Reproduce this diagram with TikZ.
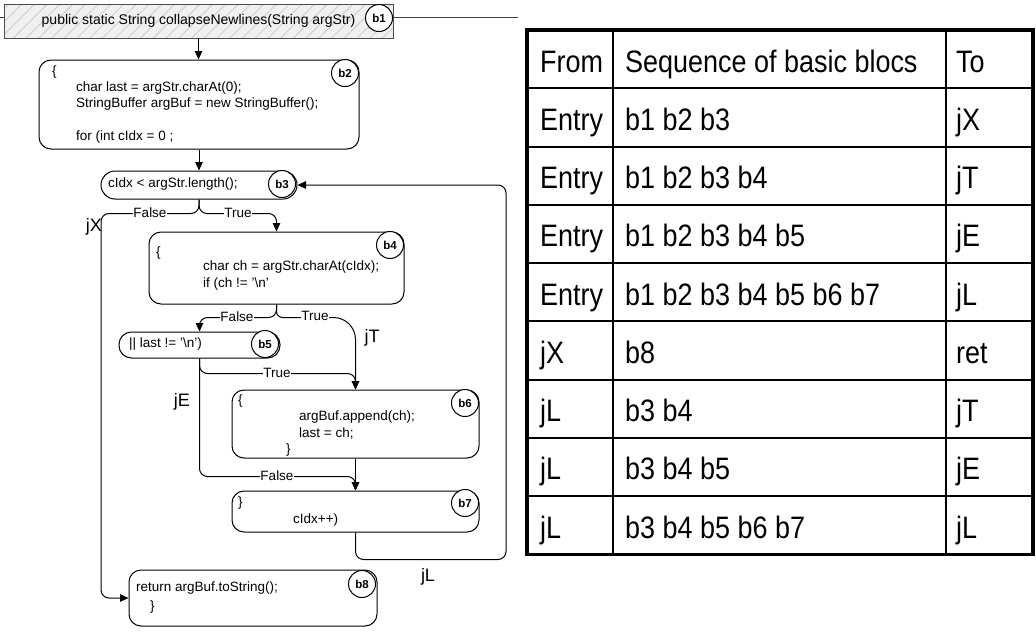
\documentclass[tikz,border=0pt]{standalone}
\usepackage{fontspec}
\setmainfont{Liberation Sans}
\usetikzlibrary{arrows.meta,patterns.meta,calc}
\tikzset{
 blk/.style={draw,line width=1pt,rounded corners=12pt,inner sep=0pt},
 pill/.style={draw,line width=1pt,rounded corners=12.5pt,inner sep=0pt},
 tag/.style={circle,draw,line width=1pt,fill=white,minimum size=27pt,inner sep=0pt,font=\fontsize{11.5}{12}\selectfont\bfseries},
 code/.style={anchor=west,inner sep=0pt,font=\fontsize{13.5}{15}\selectfont},
 lab/.style={fill=white,inner sep=0.6pt,font=\fontsize{13.5}{15}\selectfont},
 jlab/.style={inner sep=0pt,font=\fontsize{18}{20}\selectfont},
 conn/.style={line width=1pt,rounded corners=8pt},
 arr/.style={conn,-{Triangle[length=8.5pt,width=7.5pt]}},
 tabtext/.style={anchor=base west,inner sep=0pt,xscale=0.87,font=\fontsize{31}{34}\selectfont},
}
\begin{document}
\begin{tikzpicture}[x=1pt,y=-1pt]
\useasboundingbox (0,0) rectangle (1036,637);

% top line
\coordinate (topL) at (0,17);
\coordinate (topR) at (518,17);
\draw[line width=1pt,gray!50!black] (topL) -- (topR);

% b1
\node[draw=gray!60!black,line width=1pt,minimum width=389pt,minimum height=34pt,
      preaction={fill=gray!12},pattern={Lines[angle=45,distance=9pt,line width=0.8pt]},pattern color=gray!40,
      font=\fontsize{14}{16}\selectfont] (b1) at (198.5,21) {public static String collapseNewlines(String argStr)};
\node[tag] (t1) at (379,18) {b1};

% b2
\node[blk,minimum width=320pt,minimum height=89pt] (b2) at (199,104.5) {};
\node[code] (c2a) at (52,72) {\{};
\node[code] (c2b) at (76,88) {char last = argStr.charAt(0);};
\node[code] (c2c) at (76,104) {StringBuffer argBuf = new StringBuffer();};
\node[code] (c2d) at (76,137) {for (int cIdx = 0 ;};
\node[tag] (t2) at (345,73) {b2};

% b3
\node[pill,rounded corners=14pt,minimum width=196pt,minimum height=28pt] (b3) at (199,185) {};
\node[code] (c3) at (108,184) {cIdx < argStr.length();};
\node[tag] (t3) at (282,184) {b3};

% b4
\node[blk,minimum width=255pt,minimum height=72pt] (b4) at (276.5,268) {};
\node[code] (c4a) at (156,253) {\{};
\node[code] (c4b) at (203,267) {char ch = argStr.charAt(cIdx);};
\node[code] (c4c) at (203,284) {if (ch != '\textbackslash n'};
\node[tag] (t4) at (390,245) {b4};

% b5
\node[pill,minimum width=161pt,minimum height=26pt] (b5) at (199.5,345) {};
\node[code] (c5) at (129,344) {|| last != '\textbackslash n')};
\node[tag] (t5) at (265,344) {b5};

% b6
\node[blk,minimum width=247pt,minimum height=68pt] (b6) at (355.5,424) {};
\node[code] (c6a) at (238,401) {\{};
\node[code] (c6b) at (299,417) {argBuf.append(ch);};
\node[code] (c6c) at (299,433) {last = ch;};
\node[code] (c6d) at (286,450) {\}};
\node[tag] (t6) at (465,403) {b6};

% b7
\node[blk,minimum width=247pt,minimum height=41pt] (b7) at (355.5,511.5) {};
\node[code] (c7a) at (238,503) {\}};
\node[code] (c7b) at (293,520) {cIdx++)};
\node[tag] (t7) at (465,503) {b7};

% b8
\node[blk,minimum width=248pt,minimum height=56pt] (b8) at (253,598) {};
\node[code] (c8a) at (136,588) {return argBuf.toString();};
\node[code] (c8b) at (150,607) {\}};
\node[tag] (t8) at (362,584) {b8};

% connectors
\draw[arr] (b1.south) -- (b1.south |- b2.north);
\draw[arr] (b2.south) -- (b2.south |- b3.north);
\draw[arr] (b3.south) -- ++(0,14) -| (101,400) |- (b8.west);
\draw[arr] (b3.south) -- ++(0,14) -| (b4.north);
\draw[arr] (b4.south) -- ++(0,13) -| (b5.north);
\draw[arr] (b4.south) [rounded corners=6pt] -- ++(0,13) [rounded corners=22pt] -| (b6.north);
\draw[arr] (b5.south) -- ++(0,15) -| (b6.north);
\draw[arr] (b5.south) -- ++(0,118) -| (b7.north);
\draw[arr] (b6.south) -- (b7.north);
\draw[arr] (b7.south) -- ++(0,27) -| (506,300) |- (b3.east);

% branch labels
\node[lab] (lf3) at (150,213) {False};
\node[lab] (lt3) at (238,213) {True};
\node[lab] (lf4) at (237,317) {False};
\node[lab] (lt4) at (315,316) {True};
\node[lab] (lt5) at (277,373) {True};
\node[lab] (lf5) at (277,476) {False};

% path labels
\node[jlab] (jX) at (94,227) {jX};
\node[jlab] (jT) at (372,338) {jT};
\node[jlab] (jE) at (182,402) {jE};
\node[jlab] (jL) at (428,577) {jL};

% table
\foreach \k in {1,...,8} {
  \draw[line width=2pt] (527,30+58.25*\k) -- (1033,30+58.25*\k);
}
\draw[line width=2pt] (613,30) -- (613,554.25);
\draw[line width=2pt] (946,30) -- (946,554.25);
\draw[line width=3.5pt] (527,30) rectangle (1033,554.25);

\foreach \a/\b/\c [count=\i from 0] in {From/Sequence of basic blocs/To,
  Entry/b1 b2 b3/jX, Entry/b1 b2 b3 b4/jT, Entry/b1 b2 b3 b4 b5/jE,
  Entry/b1 b2 b3 b4 b5 b6 b7/jL, jX/b8/ret, jL/b3 b4/jT, jL/b3 b4 b5/jE,
  jL/b3 b4 b5 b6 b7/jL} {
  \pgfmathsetmacro\yb{30+58.25*\i+42}
  \node[tabtext] (ra\i) at (540,\yb) {\a};
  \node[tabtext] (rb\i) at (625,\yb) {\b};
  \node[tabtext] (rc\i) at (956,\yb) {\c};
}
\end{tikzpicture}
\end{document}
